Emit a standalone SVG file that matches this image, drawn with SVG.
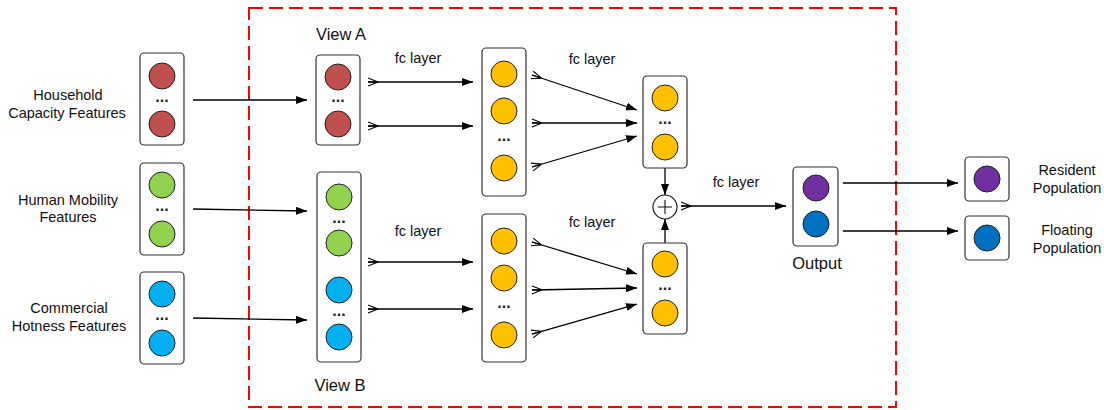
<svg xmlns="http://www.w3.org/2000/svg" width="1104" height="410" viewBox="0 0 1104 410">
<defs>
<style>
.box{fill:#fff;stroke:#333;stroke-width:1.2}
.n{stroke:#222;stroke-width:1}
.red{fill:#C0504D}.grn{fill:#92D050}.blu{fill:#00B0F0}.yel{fill:#FFC000}.pur{fill:#7030A0}.dbl{fill:#0070C0}
.t{font-family:"Liberation Sans",Arial,sans-serif;font-size:14.5px;fill:#111;text-anchor:middle}
.dots{font-family:"Liberation Sans",Arial,sans-serif;font-size:16px;font-weight:bold;fill:#222;text-anchor:middle}
.c{stroke:#000;stroke-width:1.3;fill:none}
</style>
<marker id="ah" markerUnits="userSpaceOnUse" markerWidth="12" markerHeight="10" refX="11" refY="4" orient="auto">
<path d="M0,0 L11,4 L0,8 z" fill="#000"/>
</marker>
<marker id="cf" markerUnits="userSpaceOnUse" markerWidth="12" markerHeight="10" refX="1" refY="5" orient="auto">
<path d="M1,1 L11,5 M1,5 L11,5 M1,9 L11,5" stroke="#000" stroke-width="1.1" fill="none"/>
</marker>
</defs>
<rect x="249" y="8" width="647" height="399" fill="none" stroke="#FF0000" stroke-width="2" stroke-dasharray="14 6"/>

<g id="connectors">
<path class="c" d="M193,100 L307,100" marker-end="url(#ah)"/>
<path class="c" d="M193,209 L307,211" marker-end="url(#ah)"/>
<path class="c" d="M193,318 L307,320" marker-end="url(#ah)"/>
<path class="c" d="M368,82 L473,82" marker-start="url(#cf)" marker-end="url(#ah)"/>
<path class="c" d="M368,126 L473,126" marker-start="url(#cf)" marker-end="url(#ah)"/>
<path class="c" d="M368,262 L473,262" marker-start="url(#cf)" marker-end="url(#ah)"/>
<path class="c" d="M368,309 L473,309" marker-start="url(#cf)" marker-end="url(#ah)"/>
<path class="c" d="M532,75 L637,110" marker-start="url(#cf)" marker-end="url(#ah)"/>
<path class="c" d="M532,123 L637,123" marker-start="url(#cf)" marker-end="url(#ah)"/>
<path class="c" d="M532,167 L637,136" marker-start="url(#cf)" marker-end="url(#ah)"/>
<path class="c" d="M532,242 L637,274" marker-start="url(#cf)" marker-end="url(#ah)"/>
<path class="c" d="M532,290 L637,288" marker-start="url(#cf)" marker-end="url(#ah)"/>
<path class="c" d="M532,334 L637,304" marker-start="url(#cf)" marker-end="url(#ah)"/>
<path class="c" d="M665,168 L665,195" marker-end="url(#ah)"/>
<path class="c" d="M665,243 L665,219" marker-end="url(#ah)"/>
<path class="c" d="M681,206 L786,206" marker-start="url(#cf)" marker-end="url(#ah)"/>
<path class="c" d="M843,183 L958,183" marker-end="url(#ah)"/>
<path class="c" d="M843,231 L958,231" marker-end="url(#ah)"/>
</g>

<g id="household">
<text class="t" x="68" y="100">Household</text>
<text class="t" x="67" y="118">Capacity Features</text>
<rect class="box" x="140" y="53" width="44" height="92" rx="4"/>
<circle class="n red" cx="162" cy="76" r="13"/>
<text class="dots" x="162" y="102">...</text>
<circle class="n red" cx="162" cy="124" r="13"/>
</g>

<g id="mobility">
<text class="t" x="68" y="205">Human Mobility</text>
<text class="t" x="68" y="222">Features</text>
<rect class="box" x="140" y="163" width="44" height="92" rx="4"/>
<circle class="n grn" cx="162" cy="185" r="13"/>
<text class="dots" x="162" y="211">...</text>
<circle class="n grn" cx="162" cy="234" r="13"/>
</g>

<g id="commercial">
<text class="t" x="69" y="313">Commercial</text>
<text class="t" x="69" y="331">Hotness Features</text>
<rect class="box" x="140" y="272" width="44" height="92" rx="4"/>
<circle class="n blu" cx="162" cy="294" r="13"/>
<text class="dots" x="162" y="320">...</text>
<circle class="n blu" cx="162" cy="343" r="13"/>
</g>

<g id="viewA">
<text class="t" x="341" y="40" style="font-size:16.5px">View A</text>
<rect class="box" x="316" y="55" width="44" height="90" rx="4"/>
<circle class="n red" cx="338" cy="77" r="13"/>
<text class="dots" x="338" y="102">...</text>
<circle class="n red" cx="338" cy="124" r="13"/>
</g>

<g id="viewB">
<rect class="box" x="317" y="172" width="44" height="190" rx="4"/>
<circle class="n grn" cx="339" cy="197" r="13"/>
<text class="dots" x="339" y="223">...</text>
<circle class="n grn" cx="339" cy="243" r="13"/>
<circle class="n blu" cx="339" cy="290" r="13"/>
<text class="dots" x="339" y="316">...</text>
<circle class="n blu" cx="339" cy="337" r="13"/>
<text class="t" x="340" y="391" style="font-size:16.5px">View B</text>
</g>

<g id="hiddenA">
<rect class="box" x="482" y="48" width="44" height="148" rx="4"/>
<circle class="n yel" cx="504" cy="74" r="13"/>
<circle class="n yel" cx="504" cy="111" r="13"/>
<text class="dots" x="504" y="141">...</text>
<circle class="n yel" cx="504" cy="168" r="13"/>
</g>

<g id="hiddenB">
<rect class="box" x="482" y="214" width="44" height="148" rx="4"/>
<circle class="n yel" cx="504" cy="241" r="13"/>
<circle class="n yel" cx="504" cy="278" r="13"/>
<text class="dots" x="504" y="308">...</text>
<circle class="n yel" cx="504" cy="335" r="13"/>
</g>

<g id="outA">
<rect class="box" x="643" y="76" width="44" height="92" rx="4"/>
<circle class="n yel" cx="665" cy="98" r="13"/>
<text class="dots" x="665" y="124">...</text>
<circle class="n yel" cx="665" cy="147" r="13"/>
</g>

<g id="outB">
<rect class="box" x="643" y="243" width="44" height="91" rx="4"/>
<circle class="n yel" cx="665" cy="264" r="13"/>
<text class="dots" x="665" y="290">...</text>
<circle class="n yel" cx="665" cy="313" r="13"/>
</g>

<g id="plus">
<circle cx="665" cy="207" r="12" fill="#fff" stroke="#111" stroke-width="1.1"/>
<path d="M658,207 H672 M665,200 V214" stroke="#111" stroke-width="1.1"/>
</g>

<g id="labels">
<text class="t" x="418" y="63">fc layer</text>
<text class="t" x="592" y="64">fc layer</text>
<text class="t" x="418" y="236">fc layer</text>
<text class="t" x="592" y="227">fc layer</text>
<text class="t" x="736" y="187">fc layer</text>
</g>

<g id="output">
<rect class="box" x="793" y="167" width="45" height="79" rx="4"/>
<circle class="n pur" cx="816" cy="188" r="13"/>
<circle class="n dbl" cx="816" cy="224" r="13"/>
<text class="t" x="817" y="269" style="font-size:16.5px">Output</text>
</g>

<g id="resident">
<rect class="box" x="965" y="157" width="44" height="44" rx="4"/>
<circle class="n pur" cx="987" cy="179" r="13"/>
<text class="t" x="1067" y="175">Resident</text>
<text class="t" x="1067" y="193">Population</text>
</g>

<g id="floating">
<rect class="box" x="965" y="216" width="44" height="44" rx="4"/>
<circle class="n dbl" cx="987" cy="238" r="13"/>
<text class="t" x="1067" y="235">Floating</text>
<text class="t" x="1067" y="253">Population</text>
</g>
</svg>
